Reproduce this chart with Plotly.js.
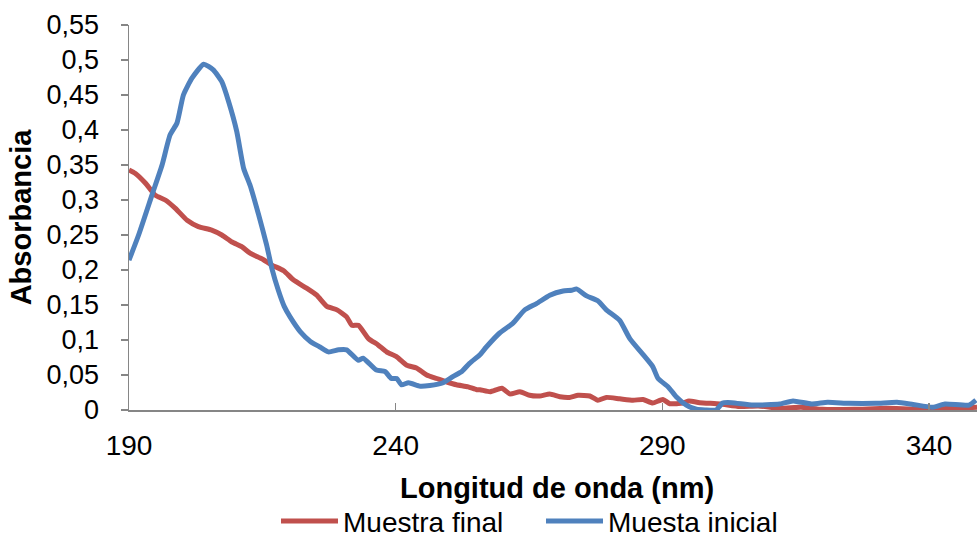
<!DOCTYPE html>
<html>
<head>
<meta charset="utf-8">
<script src="https://cdn.plot.ly/plotly-3.0.1.min.js"></script>
<style>body{margin:0;background:#fff}#chart{width:977px;height:539px}</style>
</head>
<body>
<div id="chart"></div>
<script>
// Muestra final (red)
const finalX = [190,191.2,193.1,194.9,196.8,198.7,200.9,203,205.5,207.4,209.3,211.2,212.7,214.9,216.8,219,220.8,223.3,225.2,227.1,229,230.8,231.8,233,234.9,236.7,238.3,240.2,242.1,243.9,245.8,247.7,249.6,251.4,253.6,255.2,255.8,257.7,259.9,261.4,263.3,265.1,267,268.9,270.8,272.6,274.2,276.4,277.9,279.5,282,284.5,286.4,288.2,290.1,291.4,293.9,295,297,300.8,304.5,308,312,316,320,326,332,338,344,349];
const finalY = [0.343,0.338,0.324,0.307,0.300,0.288,0.271,0.262,0.257,0.250,0.240,0.233,0.224,0.216,0.207,0.199,0.186,0.174,0.164,0.148,0.143,0.133,0.121,0.121,0.102,0.093,0.083,0.076,0.064,0.060,0.050,0.045,0.040,0.036,0.033,0.029,0.029,0.026,0.031,0.023,0.026,0.021,0.020,0.023,0.019,0.018,0.021,0.020,0.014,0.018,0.016,0.014,0.015,0.010,0.015,0.009,0.010,0.013,0.0105,0.0086,0.005,0.0057,0.0024,0.0038,0.001,0.001,0.0024,0.001,0.0024,0.0038];
// Muesta inicial (blue)
const inicialX = [190,191.8,194.3,196.2,197.7,199,200.2,201.8,204,205.8,207.4,208.7,210.2,211.5,212.7,214.3,215.8,216.8,218,219.1,220.2,222.1,224,225.8,227.4,229.3,230.8,233,233.9,236.4,238,239.2,240.2,241.1,242.4,244.6,246.4,248.9,250.8,252.4,253.9,255.8,257,259.5,262,264.2,266.4,268.9,271.4,273,273.9,275.8,277.9,279.5,282,283.9,286.4,288.2,289.2,291.1,292.6,294.5,296.4,298,300.1,301.3,303,307,312,314.5,318,321,325,330,334,337,340.7,343,347.5,348.8];
const inicialY = [0.214,0.250,0.307,0.350,0.393,0.410,0.450,0.474,0.494,0.486,0.469,0.440,0.398,0.345,0.321,0.279,0.236,0.202,0.171,0.148,0.133,0.112,0.098,0.090,0.083,0.086,0.086,0.071,0.074,0.057,0.055,0.045,0.045,0.036,0.039,0.034,0.035,0.039,0.048,0.055,0.067,0.079,0.090,0.110,0.124,0.143,0.152,0.164,0.170,0.171,0.173,0.163,0.156,0.143,0.128,0.102,0.079,0.062,0.045,0.033,0.019,0.007,0.001,0.000,0.000,0.010,0.0105,0.007,0.0086,0.013,0.0086,0.011,0.0095,0.0095,0.011,0.008,0.004,0.0086,0.007,0.014];
const xTicks = [190,240,290,340];
const yTicks = [0,0.05,0.1,0.15,0.2,0.25,0.3,0.35,0.4,0.45,0.5,0.55];
const xTitle = 'Longitud de onda (nm)';
const yTitle = 'Absorbancia';

const font = 'Liberation Sans, Arial, sans-serif';
const data = [
  {x: finalX, y: finalY, type:'scatter', mode:'lines', name:'Muestra final',
   line:{color:'#C0504D', width:5, shape:'spline', smoothing:0.5}},
  {x: inicialX, y: inicialY, type:'scatter', mode:'lines', name:'Muesta inicial',
   line:{color:'#4F81BD', width:5, shape:'spline', smoothing:0.5}}
];
const layout = {
  width:977, height:539,
  margin:{l:129, r:0, t:25, b:129},
  paper_bgcolor:'#fff', plot_bgcolor:'#fff',
  separators:',.',
  font:{family:font, size:27, color:'#000'},
  showlegend:true,
  legend:{orientation:'h', xref:'container', x:0.2825, xanchor:'left', yref:'container', y:0.033, yanchor:'middle',
          font:{family:font, size:28, color:'#000'}, itemwidth:57, entrywidth:193, traceorder:'normal'},
  xaxis:{range:[190,349], tickvals:xTicks, ticks:'inside', ticklen:7, tickcolor:'#868686', tickwidth:1.5,
         showline:true, linecolor:'#868686', linewidth:1.5, showgrid:false, zeroline:false,
         ticklabelstandoff:10, tickfont:{family:font, size:28}},
  yaxis:{range:[0,0.55], tickvals:yTicks, ticks:'outside', ticklen:7, tickcolor:'#868686', tickwidth:1.5,
         showline:true, linecolor:'#868686', linewidth:1.5, showgrid:false, zeroline:false,
         ticklabelstandoff:16, tickfont:{family:font, size:27},
         title:{text:'<b>' + yTitle + '</b>', font:{family:font, size:29}, standoff:6}},
  annotations:[{text:'<b>' + xTitle + '</b>', xref:'paper', yref:'paper', x:0.5047, y:-0.2026,
                xanchor:'center', yanchor:'middle', showarrow:false, font:{family:font, size:29, color:'#000'}}]
};
Plotly.newPlot('chart', data, layout, {displayModeBar:false, staticPlot:true});
</script>
</body>
</html>
